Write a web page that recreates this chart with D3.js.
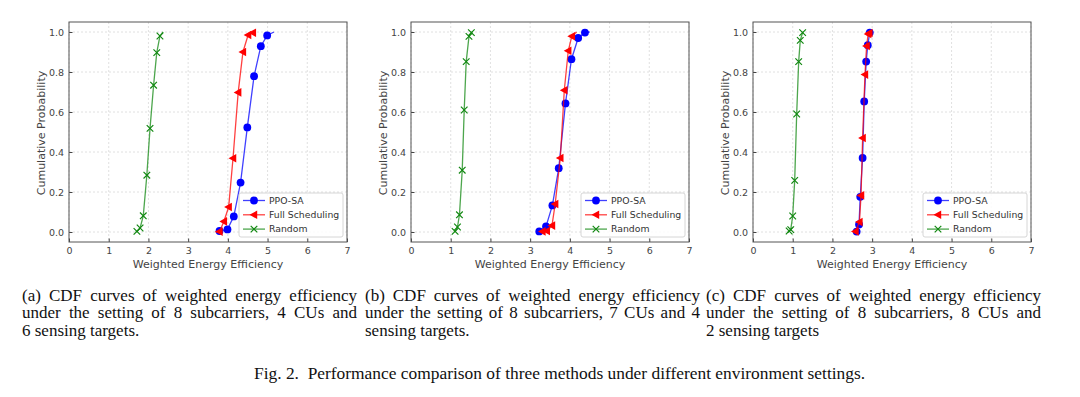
<!DOCTYPE html>
<html>
<head>
<meta charset="utf-8">
<script src="https://cdn.jsdelivr.net/npm/d3@7"></script>
<style>
  body { margin: 0; background: #fff; }
  svg { display: block; }
</style>
</head>
<body>
<svg id="fig"></svg>
<script>
// values: [x, cumulative probability]
// first and last points are line ends only, the rest carry markers
var ppoA    = [[3.71,0],[3.79,0.005],[3.99,0.013],[4.15,0.078],[4.32,0.247],[4.49,0.523],[4.66,0.779],[4.83,0.929],[4.99,0.983],[5.16,1]];
var fullA   = [[3.69,0],[3.79,0.002],[3.90,0.053],[4.02,0.125],[4.13,0.369],[4.26,0.698],[4.38,0.900],[4.51,0.985],[4.63,0.996],[4.66,1]];
var randA   = [[1.68,0],[1.71,0.003],[1.79,0.02],[1.87,0.081],[1.96,0.284],[2.04,0.518],[2.13,0.734],[2.21,0.897],[2.29,0.98],[2.37,1]];

var ppoB    = [[3.18,0],[3.23,0.003],[3.40,0.028],[3.56,0.133],[3.72,0.319],[3.89,0.643],[4.04,0.864],[4.21,0.97],[4.38,0.997],[4.50,1]];
var fullB   = [[3.28,0],[3.31,0.003],[3.42,0.005],[3.55,0.032],[3.63,0.14],[3.76,0.37],[3.86,0.709],[3.96,0.906],[4.05,0.979],[4.17,1]];
var randB   = [[1.08,0],[1.11,0.003],[1.17,0.025],[1.22,0.086],[1.29,0.309],[1.34,0.61],[1.39,0.852],[1.46,0.978],[1.52,0.997],[1.55,1]];

var ppoC    = [[2.59,0],[2.61,0.002],[2.67,0.038],[2.70,0.176],[2.76,0.37],[2.80,0.653],[2.85,0.852],[2.89,0.934],[2.94,0.997],[2.95,1]];
var fullC   = [[2.56,0],[2.58,0.003],[2.68,0.05],[2.72,0.183],[2.76,0.47],[2.82,0.787],[2.86,0.93],[2.90,0.99],[2.93,0.995],[2.94,1]];
var randC   = [[0.88,0],[0.91,0.005],[0.95,0.012],[1.00,0.08],[1.05,0.258],[1.10,0.59],[1.15,0.852],[1.19,0.958],[1.25,0.997],[1.27,1]];

var seriesNames = ["PPO-SA", "Full Scheduling", "Random"];
var xTicks = [0, 1, 2, 3, 4, 5, 6, 7];
var yTicks = [0, 0.2, 0.4, 0.6, 0.8, 1.0];

var subCaptions = [
  ["(a) CDF curves of weighted energy efficiency", "under the setting of 8 subcarriers, 4 CUs and", "6 sensing targets."],
  ["(b) CDF curves of weighted energy efficiency", "under the setting of 8 subcarriers, 7 CUs and 4", "sensing targets."],
  ["(c) CDF curves of weighted energy efficiency", "under the setting of 8 subcarriers, 8 CUs and", "2 sensing targets"]
];
var figCaption = "Fig. 2.  Performance comparison of three methods under different environment settings.";

var panels = [
  {left: 69,  data: [ppoA, fullA, randA], capX: 22},
  {left: 411, data: [ppoB, fullB, randB], capX: 365},
  {left: 753, data: [ppoC, fullC, randC], capX: 706}
];

var colors = ["#0000ff", "#ff0000", "#118811"];
var plotW = 278, plotH = 220, plotTop = 22;

var svg = d3.select("#fig")
    .attr("width", 1080)
    .attr("height", 397);

function drawMarker(sel, k) {
  if (k === 0) {
    sel.append("circle").attr("r", 3.9)
      .attr("fill", colors[0]);
  } else if (k === 1) {
    sel.append("path").attr("d", "M-4.5,0L3.2,-4.3L3.2,4.3Z")
      .attr("fill", colors[1]);
  } else {
    sel.append("path").attr("d", "M-3.3,-3.3L3.3,3.3M-3.3,3.3L3.3,-3.3")
      .attr("stroke", colors[2]).attr("stroke-width", 1.2)
      .attr("fill", "none");
  }
}

panels.forEach(function(p) {
  var g = svg.append("g")
      .attr("transform", "translate(" + p.left + "," + plotTop + ")");

  var x = d3.scaleLinear().domain([0, 7]).range([0, plotW]);
  var y = d3.scaleLinear().domain([-0.05, 1.05]).range([plotH, 0]);

  // grid
  g.append("g").selectAll("line").data(xTicks).enter().append("line")
      .attr("x1", function(d) { return x(d); })
      .attr("x2", function(d) { return x(d); })
      .attr("y1", 0).attr("y2", plotH)
      .attr("stroke", "#d8d8d8").attr("stroke-width", 0.8)
      .attr("stroke-dasharray", "2,2");
  g.append("g").selectAll("line").data(yTicks).enter().append("line")
      .attr("y1", function(d) { return y(d); })
      .attr("y2", function(d) { return y(d); })
      .attr("x1", 0).attr("x2", plotW)
      .attr("stroke", "#d8d8d8").attr("stroke-width", 0.8)
      .attr("stroke-dasharray", "2,2");

  // axes, ticks pointing in
  var xAxis = g.append("g")
      .attr("transform", "translate(0," + plotH + ")")
      .call(d3.axisBottom(x).tickValues(xTicks).tickSizeInner(-3.5).tickSizeOuter(0)
        .tickPadding(5).tickFormat(d3.format("d")));
  var yAxis = g.append("g")
      .call(d3.axisLeft(y).tickValues(yTicks).tickSizeInner(-3.5).tickSizeOuter(0)
        .tickPadding(5).tickFormat(d3.format(".1f")));
  [xAxis, yAxis].forEach(function(a) {
    a.select(".domain").remove();
    a.selectAll("line").attr("stroke", "#444");
    a.selectAll("text")
      .attr("fill", "#444")
      .style("font-family", "DejaVu Sans, sans-serif")
      .style("font-size", "9.5px");
  });

  // curves
  var line = d3.line()
      .x(function(d) { return x(d[0]); })
      .y(function(d) { return y(d[1]); });

  p.data.forEach(function(s, k) {
    g.append("path")
      .datum(s)
      .attr("d", line)
      .attr("fill", "none")
      .attr("stroke", colors[k])
      .attr("stroke-opacity", 0.75)
      .attr("stroke-width", 1.3);
    g.append("g").selectAll("g")
      .data(s.slice(1, s.length - 1))
      .enter().append("g")
        .attr("transform", function(d) { return "translate(" + x(d[0]) + "," + y(d[1]) + ")"; })
        .each(function() { drawMarker(d3.select(this), k); });
  });

  // frame
  g.append("rect")
      .attr("width", plotW).attr("height", plotH)
      .attr("fill", "none").attr("stroke", "#555").attr("stroke-width", 1);

  // axis titles
  g.append("text")
      .attr("x", plotW / 2).attr("y", plotH + 25.5)
      .attr("text-anchor", "middle")
      .attr("fill", "#444")
      .style("font-family", "DejaVu Sans, sans-serif")
      .style("font-size", "11px")
      .text("Weighted Energy Efficiency");
  g.append("text")
      .attr("transform", "translate(-24," + (plotH / 2 + 1) + ") rotate(-90)")
      .attr("text-anchor", "middle")
      .attr("fill", "#444")
      .style("font-family", "DejaVu Sans, sans-serif")
      .style("font-size", "11px")
      .text("Cumulative Probability");

  // legend
  var lg = g.append("g").attr("transform", "translate(" + (plotW - 108) + ",171)");
  lg.append("rect")
      .attr("width", 104).attr("height", 44).attr("rx", 2)
      .attr("fill", "#fff").attr("fill-opacity", 0.85)
      .attr("stroke", "#ccc").attr("stroke-width", 0.8);
  seriesNames.forEach(function(name, k) {
    var row = lg.append("g").attr("transform", "translate(0," + (7.5 + k * 14.3) + ")");
    row.append("line")
      .attr("x1", 4).attr("x2", 26)
      .attr("stroke", colors[k]).attr("stroke-opacity", 0.75).attr("stroke-width", 1.3);
    drawMarker(row.append("g").attr("transform", "translate(15,0)"), k);
    row.append("text")
      .attr("x", 30).attr("y", 3.3)
      .attr("fill", "#333")
      .style("font-family", "DejaVu Sans, sans-serif")
      .style("font-size", "9.3px")
      .text(name);
  });
});

// sub captions, first two lines justified
var capW = 335;
panels.forEach(function(p, i) {
  subCaptions[i].forEach(function(txt, j) {
    var t = svg.append("text")
      .attr("x", p.capX).attr("y", 300.5 + j * 17.5)
      .attr("fill", "#111")
      .style("font-family", "Liberation Serif, Times New Roman, serif")
      .style("font-size", "17px")
      .text(txt);
    if (j < 2) {
      var w = t.node().getComputedTextLength();
      var gaps = txt.split(" ").length - 1;
      t.attr("word-spacing", ((capW - w) / gaps) + "px");
    }
  });
});

svg.append("text")
    .attr("x", 254).attr("y", 379)
    .attr("fill", "#111")
    .style("font-family", "Liberation Serif, Times New Roman, serif")
    .style("font-size", "17.4px")
    .style("white-space", "pre")
    .text(figCaption);
</script>
</body>
</html>
